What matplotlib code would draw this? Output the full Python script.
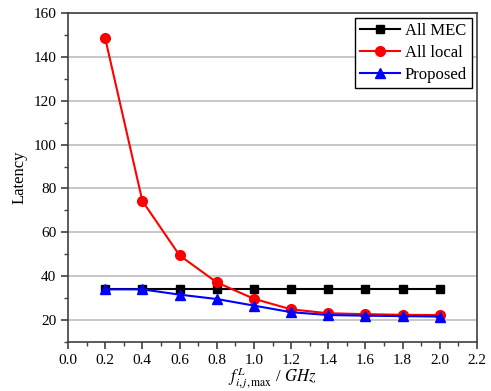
import numpy as np
import matplotlib
matplotlib.use('Agg')
import matplotlib.pyplot as plt
from matplotlib.ticker import MultipleLocator

plt.rcParams['font.family'] = 'Liberation Serif'
plt.rcParams['mathtext.fontset'] = 'stix'

freq = [0.2, 0.4, 0.6, 0.8, 1.0, 1.2, 1.4, 1.6, 1.8, 2.0]
all_mec = [34.0, 34.0, 34.0, 34.0, 34.0, 34.0, 34.0, 34.0, 34.0, 34.0]
all_local = [148.5, 74.3, 49.5, 37.2, 29.7, 24.9, 23.1, 22.7, 22.4, 22.3]
proposed = [34.0, 34.0, 31.6, 29.6, 26.6, 23.6, 22.3, 22.0, 21.8, 21.6]

fig = plt.figure(figsize=(4.91, 3.91), dpi=100)
ax = fig.add_axes([0.1385, 0.1253, 0.833, 0.8415])

ax.plot(freq, all_mec, color='black', marker='s', markersize=6, lw=1.5, label='All MEC')
ax.plot(freq, all_local, color='red', marker='o', markersize=7, lw=1.5, label='All local')
ax.plot(freq, proposed, color='blue', marker='^', markersize=7, lw=1.5, label='Proposed')

ax.set_xlim(0, 2.2)
ax.set_ylim(10, 160)
ax.xaxis.set_major_locator(MultipleLocator(0.2))
ax.xaxis.set_minor_locator(MultipleLocator(0.1))
ax.yaxis.set_major_locator(MultipleLocator(20))
ax.yaxis.set_minor_locator(MultipleLocator(10))
ax.set_xticklabels([f'{v:.1f}' for v in ax.get_xticks()])
ax.set_yticks(np.arange(20, 161, 20))
ax.grid(axis='y', which='major', color='#b8b8b8', lw=1.1)
ax.set_axisbelow(True)

for s in ax.spines.values():
    s.set_color('#404040')
    s.set_linewidth(1.2)
ax.tick_params(which='both', direction='out', colors='#404040', labelcolor='black', labelsize=11)
ax.tick_params(which='major', length=5, width=1.2)
ax.tick_params(which='minor', length=3, width=1.0)

ax.set_ylabel('Latency', fontsize=12)
ax.set_xlabel(r'$f_{i,j,\max}^{L}$ / $GHz$', fontsize=12, labelpad=-1)

leg = ax.legend(loc='upper right', fontsize=12, fancybox=False, framealpha=1,
                edgecolor='black', borderpad=0.3, handlelength=2.4, labelspacing=0.35,
                handletextpad=0.3, borderaxespad=0.3)
leg.get_frame().set_linewidth(1.0)

fig.savefig('out.png', dpi=100)
